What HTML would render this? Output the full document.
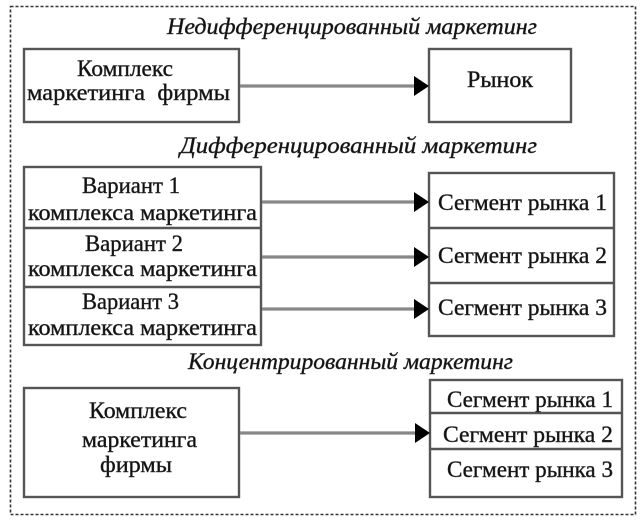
<!DOCTYPE html>
<html><head><meta charset="utf-8"><style>
html,body{margin:0;padding:0;background:#fff;}
svg{display:block;}
text{font-family:"Liberation Serif","DejaVu Serif",serif;fill:#111;stroke:#333;stroke-width:0.45px;}
.t{font-size:23px;}
.it{font-size:23px;font-style:italic;}
</style></head><body>
<svg width="641" height="522" viewBox="0 0 641 522" xmlns="http://www.w3.org/2000/svg">
<rect x="0" y="0" width="641" height="522" fill="#fff"/>
<!-- outer dashed border -->
<rect x="10.5" y="6.5" width="625" height="508" fill="none" stroke="#333" stroke-width="1.6" stroke-dasharray="3 2"/>

<g fill="none" stroke="#555" stroke-width="2.4">
<!-- row 1 -->
<rect x="24" y="49" width="215" height="73"/>
<rect x="429" y="49" width="142" height="73"/>
<!-- variants -->
<rect x="24" y="167" width="237" height="178"/>
<line x1="24" y1="228" x2="261" y2="228"/>
<line x1="24" y1="287" x2="261" y2="287"/>
<!-- segments diff -->
<rect x="429" y="173" width="185" height="163"/>
<line x1="429" y1="228" x2="614" y2="228"/>
<line x1="429" y1="283" x2="614" y2="283"/>
<!-- conc -->
<rect x="24" y="388" width="215" height="109"/>
<rect x="430" y="380" width="192" height="117"/>
<line x1="430" y1="413" x2="622" y2="413"/>
<line x1="430" y1="449" x2="622" y2="449"/>
</g>

<!-- connectors -->
<g stroke="#888" stroke-width="3.2">
<line x1="240" y1="86" x2="416" y2="86"/>
<line x1="262" y1="202" x2="416" y2="202"/>
<line x1="262" y1="257" x2="416" y2="257"/>
<line x1="262" y1="309" x2="416" y2="309"/>
<line x1="240" y1="433" x2="417" y2="433"/>
</g>
<g fill="#000">
<polygon points="414,76 429,86 414,96"/>
<polygon points="414,192 429,202 414,212"/>
<polygon points="414,247 429,257 414,267"/>
<polygon points="414,299 429,309 414,319"/>
<polygon points="415,423 430,433 415,443"/>
</g>

<!-- titles -->
<text class="it" x="167" y="34" textLength="370" lengthAdjust="spacingAndGlyphs">Недифференцированный маркетинг</text>
<text class="it" x="180" y="153" textLength="357" lengthAdjust="spacingAndGlyphs">Дифференцированный маркетинг</text>
<text class="it" x="188" y="369" textLength="325" lengthAdjust="spacingAndGlyphs">Концентрированный маркетинг</text>

<!-- box 1 -->
<text class="t" x="77" y="76" textLength="96" lengthAdjust="spacingAndGlyphs">Комплекс</text>
<text class="t" x="27" y="100" textLength="203" lengthAdjust="spacingAndGlyphs" xml:space="preserve">маркетинга  фирмы</text>
<text class="t" x="467" y="87" textLength="66" lengthAdjust="spacingAndGlyphs">Рынок</text>

<!-- variants -->
<text class="t" x="82" y="193" textLength="98" lengthAdjust="spacingAndGlyphs">Вариант 1</text>
<text class="t" x="28" y="220" textLength="229" lengthAdjust="spacingAndGlyphs">комплекса маркетинга</text>
<text class="t" x="85" y="251" textLength="98" lengthAdjust="spacingAndGlyphs">Вариант 2</text>
<text class="t" x="28" y="276" textLength="229" lengthAdjust="spacingAndGlyphs">комплекса маркетинга</text>
<text class="t" x="82" y="309" textLength="97" lengthAdjust="spacingAndGlyphs">Вариант 3</text>
<text class="t" x="28" y="335" textLength="229" lengthAdjust="spacingAndGlyphs">комплекса маркетинга</text>

<!-- segments diff -->
<text class="t" x="438" y="210" textLength="169" lengthAdjust="spacingAndGlyphs">Сегмент рынка 1</text>
<text class="t" x="438" y="263" textLength="169" lengthAdjust="spacingAndGlyphs">Сегмент рынка 2</text>
<text class="t" x="438" y="315" textLength="169" lengthAdjust="spacingAndGlyphs">Сегмент рынка 3</text>

<!-- box 3 -->
<text class="t" x="89" y="418" textLength="98" lengthAdjust="spacingAndGlyphs">Комплекс</text>
<text class="t" x="82" y="447" textLength="115" lengthAdjust="spacingAndGlyphs">маркетинга</text>
<text class="t" x="100" y="472" textLength="72" lengthAdjust="spacingAndGlyphs">фирмы</text>

<!-- segments conc -->
<text class="t" x="447" y="407" textLength="166" lengthAdjust="spacingAndGlyphs">Сегмент рынка 1</text>
<text class="t" x="443" y="442" textLength="170" lengthAdjust="spacingAndGlyphs">Сегмент рынка 2</text>
<text class="t" x="447" y="477" textLength="166" lengthAdjust="spacingAndGlyphs">Сегмент рынка 3</text>
</svg>
</body></html>
